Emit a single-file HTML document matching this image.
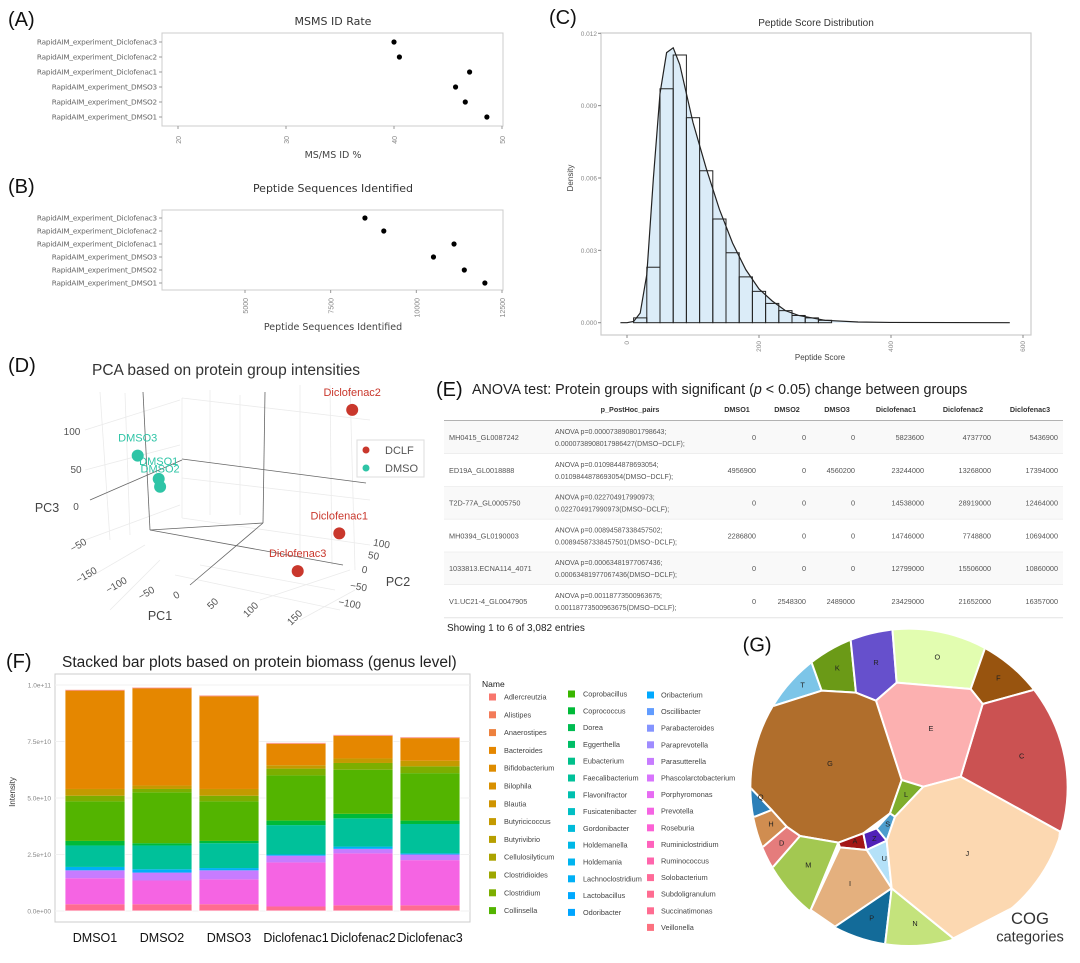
<!DOCTYPE html>
<html><head><meta charset="utf-8">
<style>
html,body{margin:0;padding:0;background:#fff;}
svg{display:block;font-family:"Liberation Sans",sans-serif;}
</style></head>
<body>
<svg id="fig" width="1080" height="963" viewBox="0 0 1080 963" xmlns="http://www.w3.org/2000/svg">
<g id="gA"></g>
<g id="gB"></g>
<g id="gC"></g>
<g id="gD"></g>
<g id="gE"></g>
<g id="gF"></g>
<svg id="gG" x="720" y="620" width="360" height="343" viewBox="0 0 1080 1029"></svg>
</svg>
<script>
// ---------- DATA ----------
const sampleNames = ["RapidAIM_experiment_Diclofenac3","RapidAIM_experiment_Diclofenac2","RapidAIM_experiment_Diclofenac1","RapidAIM_experiment_DMSO3","RapidAIM_experiment_DMSO2","RapidAIM_experiment_DMSO1"];
const msmsRate = [40.0, 40.5, 47.0, 45.7, 46.6, 48.6];
const msmsTicks = [20, 30, 40, 50];
const peptideCounts = [8500, 9050, 11100, 10500, 11400, 12000];
const peptideTicks = [5000, 7500, 10000, 12500];

const histStart = [10,30,50,70,90,110,130,150,170,190,210,230,250,270,290];
const histDensity = [0.0002,0.0023,0.0097,0.0111,0.0085,0.0063,0.0043,0.0029,0.0019,0.0013,0.0008,0.0005,0.0003,0.0002,0.0001];
const kdeX = [-10,0,10,20,30,40,50,60,70,80,90,100,120,140,160,180,200,220,240,260,300,350,400,580];
const kdeY = [0,0,0.00005,0.0004,0.002,0.006,0.0095,0.0112,0.0114,0.0107,0.0095,0.0083,0.0064,0.0047,0.0033,0.0022,0.0014,0.0009,0.0005,0.0003,0.0001,0.00003,0.00001,0];
const densTicks = ["0.000","0.003","0.006","0.009","0.012"];
const scoreTicks = [0,200,400,600];

const pcaNames = ["Diclofenac2","Diclofenac1","Diclofenac3","DMSO3","DMSO1","DMSO2"];
const pcaGroup = ["DCLF","DCLF","DCLF","DMSO","DMSO","DMSO"];
const pc1 = [206,199,151,-89,-59,-57];
const pc2 = [50,0,-50,0,0,0];
const pc3 = [168,22,-18,68,43,33];

const tblIds = ["MH0415_GL0087242","ED19A_GL0018888","T2D-77A_GL0005750","MH0394_GL0190003","1033813.ECNA114_4071","V1.UC21-4_GL0047905"];
const tblP1 = ["ANOVA p=0.000073890801798643;","ANOVA p=0.0109844878693054;","ANOVA p=0.022704917990973;","ANOVA p=0.00894587338457502;","ANOVA p=0.00063481977067436;","ANOVA p=0.00118773500963675;"];
const tblP2 = ["0.0000738908017986427(DMSO~DCLF);","0.0109844878693054(DMSO~DCLF);","0.022704917990973(DMSO~DCLF);","0.00894587338457501(DMSO~DCLF);","0.00063481977067436(DMSO~DCLF);","0.00118773500963675(DMSO~DCLF);"];
const tblDMSO1 = [0,4956900,0,2286800,0,0];
const tblDMSO2 = [0,0,0,0,0,2548300];
const tblDMSO3 = [0,4560200,0,0,0,2489000];
const tblDic1 = [5823600,23244000,14538000,14746000,12799000,23429000];
const tblDic2 = [4737700,13268000,28919000,7748800,15506000,21652000];
const tblDic3 = [5436900,17394000,12464000,10694000,10860000,16357000];

const barSamples = ["DMSO1","DMSO2","DMSO3","Diclofenac1","Diclofenac2","Diclofenac3"];
const stackColors = ["#ff6c91","#f564e3","#c77cff","#00b0f6","#00c19a","#00ba38","#53b400","#7cae00","#c49a00","#e58700","#f8766d"];
const sVeillonella = [0.3,0.3,0.3,0.2,0.25,0.25];
const sPrevotella = [1.15,1.05,1.1,1.95,2.3,2.0];
const sPhascol = [0.35,0.35,0.4,0.3,0.2,0.25];
const sOribacterium = [0.15,0.15,0.1,0.05,0.1,0.05];
const sFaecali = [0.95,1.05,1.1,1.3,1.25,1.3];
const sCoprococcus = [0.2,0.1,0.1,0.2,0.2,0.15];
const sCollinsella = [1.75,2.25,1.75,2.0,1.95,2.1];
const sClostridioides = [0.25,0.15,0.25,0.3,0.3,0.3];
const sBlautia = [0.3,0.15,0.3,0.15,0.2,0.25];
const sBacteroides = [4.35,4.3,4.1,0.95,1.0,1.0];
const sAlistipes = [0.05,0.05,0.05,0.05,0.05,0.05];
const intensityTicks = ["0.0e+00","2.5e+10","5.0e+10","7.5e+10","1.0e+11"];
const legendCol1 = ["Adlercreutzia","Alistipes","Anaerostipes","Bacteroides","Bifidobacterium","Bilophila","Blautia","Butyricicoccus","Butyrivibrio","Cellulosilyticum","Clostridioides","Clostridium","Collinsella"];
const legendCol2 = ["Coprobacillus","Coprococcus","Dorea","Eggerthella","Eubacterium","Faecalibacterium","Flavonifractor","Fusicatenibacter","Gordonibacter","Holdemanella","Holdemania","Lachnoclostridium","Lactobacillus","Odoribacter"];
const legendCol3 = ["Oribacterium","Oscillibacter","Parabacteroides","Paraprevotella","Parasutterella","Phascolarctobacterium","Porphyromonas","Prevotella","Roseburia","Ruminiclostridium","Ruminococcus","Solobacterium","Subdoligranulum","Succinatimonas","Veillonella"];
const legendColors1 = ["#f8766d","#f37b59","#ed813e","#e58700","#de8c00","#d89000","#cf9400","#c49a00","#b79f00","#aba300","#9da700","#7cae00","#53b400"];
const legendColors2 = ["#39b600","#00ba38","#00bc51","#00be67","#00c08b","#00c19a","#00c0af","#00bfc4","#00bbda","#00b8e7","#00b4ef","#00b0f6","#00a9ff","#00a5ff"];
const legendColors3 = ["#00a9ff","#619cff","#8494ff","#9f8cff","#c77cff","#d874fd","#e76bf3","#f564e3","#fc61d5","#ff62bc","#ff65ac","#ff6a98","#ff6c91","#ff6c91","#fc717f"];

const cogLabels = ["T","K","R","O","F","C","E","G","Q","H","D","M","A","Z","S","L","U","I","P","N","J"];
const cogColors = ["#7cc5e8","#6b9a17","#6650cc","#e2fdb0","#98540f","#cb5252","#fcb0b0","#b06e2c","#2c7fb8","#d08d50","#e57c7c","#a3c851","#a31616","#5021b8","#4c9dcd","#7fae2c","#b4e1f8","#e4b07e","#136b99","#c4e37c","#fcd8b1"];

// ---------- HELPERS ----------
const NS="http://www.w3.org/2000/svg";
function mk(tag, attrs, parent){const e=document.createElementNS(NS,tag);for(const k in attrs)e.setAttribute(k,attrs[k]);parent.appendChild(e);return e;}
function tx(str, attrs, parent){const e=mk("text",attrs,parent);e.textContent=str;return e;}
const gA=document.getElementById("gA"),gB=document.getElementById("gB"),gC=document.getElementById("gC"),gD=document.getElementById("gD"),gE=document.getElementById("gE"),gF=document.getElementById("gF"),gG=document.getElementById("gG");
let el;

// ---------- PANEL A & B ----------
function dotPanel(g, letter, letterY, title, titleY, fy0, fy1, rowY0, rowStep, vals, xmin, xmax, x0, x1, ticks, tickY, xlabel, xlabelY, prefix){
  el=tx(letter,{x:8,y:letterY,"font-size":20,fill:"#111"},g);
  
  
  el=tx(title,{x:333,y:titleY,"font-size":11,"text-anchor":"middle",fill:"#333","font-family":"DejaVu Sans, sans-serif"},g);
  
  
  el=mk("rect",{x:162,y:fy0,width:341,height:fy1-fy0,fill:"#fff",stroke:"#ccc","stroke-width":1},g);
  
  
  const sx=v=>x0+(v-xmin)/(xmax-xmin)*(x1-x0);
  ticks.forEach(t=>{
    el=mk("line",{x1:sx(t),x2:sx(t),y1:fy1,y2:fy1+3,stroke:"#999"},g);
    
    
    el=tx(String(t),{x:0,y:0,"font-size":7,fill:"#888","text-anchor":"end",transform:`translate(${sx(t)+3},${tickY}) rotate(-90)`},g);
    
    
  });
  vals.forEach((v,i)=>{
    const y=rowY0+i*rowStep;
    el=tx(sampleNames[i],{x:157,y:y+2.5,"font-size":7.3,fill:"#666","text-anchor":"end","font-family":"DejaVu Sans, sans-serif","letter-spacing":"-0.2"},g);
    
    
    el=mk("line",{x1:159,x2:162,y1:y,y2:y,stroke:"#999"},g);
    
    
    el=mk("circle",{cx:sx(v),cy:y,r:2.6,fill:"#000"},g);
    
    
  });
  el=tx(xlabel,{x:333,y:xlabelY,"font-size":9.5,"text-anchor":"middle",fill:"#444","font-family":"DejaVu Sans, sans-serif"},g);
  
  
}
dotPanel(gA,"(A)",26,"MSMS ID Rate",25,33,126,42,15,msmsRate,20,50,178,502,msmsTicks,136,"MS/MS ID %",158,"a");
dotPanel(gB,"(B)",193,"Peptide Sequences Identified",192,210,290,218,13,peptideCounts,5000,12500,245,502,peptideTicks,298,"Peptide Sequences Identified",330,"b");

// ---------- PANEL C ----------
(function(){
  const g=gC;
  const sx=v=>627+v*0.66, sy=v=>322.7-v/0.012*289.4;
  el=tx("(C)",{x:549,y:24,"font-size":20,fill:"#111"},g);
  
  
  el=tx("Peptide Score Distribution",{x:816,y:26,"font-size":10,"text-anchor":"middle",fill:"#333"},g);
  
  
  el=mk("rect",{x:601,y:33,width:430,height:302,fill:"#fff",stroke:"#ccc","stroke-width":1.2},g);
  
  
  densTicks.forEach(t=>{
    const y=sy(parseFloat(t));
    el=mk("line",{x1:598,x2:601,y1:y,y2:y,stroke:"#888"},g);
    
    
    el=tx(t,{x:597,y:y+2.5,"font-size":6.5,"text-anchor":"end",fill:"#888"},g);
    
    
  });
  scoreTicks.forEach(t=>{
    el=mk("line",{x1:sx(t),x2:sx(t),y1:335,y2:338,stroke:"#888"},g);
    
    
    el=tx(String(t),{x:0,y:0,"font-size":6.5,"text-anchor":"end",fill:"#888",transform:`translate(${sx(t)+2},${341}) rotate(-90)`},g);
    
    
  });
  el=tx("Density",{x:0,y:0,"font-size":8,"text-anchor":"middle",fill:"#444",transform:"translate(573,178) rotate(-90)"},g);
  
  
  el=tx("Peptide Score",{x:820,y:360,"font-size":8,"text-anchor":"middle",fill:"#444"},g);
  
  
  // kde fill
  let pts=kdeX.map((x,i)=>`${sx(x)},${sy(kdeY[i])}`);
  el=mk("polygon",{points:pts.join(" "),fill:"#dbecf8",stroke:"none"},g);
  
  
  histStart.forEach((s,i)=>{
    el=mk("rect",{x:sx(s),y:sy(histDensity[i]),width:sx(s+20)-sx(s),height:sy(0)-sy(histDensity[i]),fill:"none",stroke:"#222","stroke-width":1},g);
    
    
  });
  el=mk("polyline",{points:pts.join(" "),fill:"none",stroke:"#222","stroke-width":1.2},g);
  
  
})();

// ---------- PANEL D ----------
(function(){
  const g=gD;
  const O=[200,520];
  const px=(a,b,c)=>O[0]+0.7*a+0.16*b;
  const py=(a,b,c)=>O[1]+0.15*a-0.3*b-0.75*c;
  el=tx("(D)",{x:8,y:372,"font-size":20,fill:"#111"},g);
  
  
  el=tx("PCA based on protein group intensities",{x:226,y:375,"font-size":15.5,"text-anchor":"middle",fill:"#333"},g);
  
  
  const grid=[[100,392,110,540],[125,393,130,535],[182,398,182,518],[210,390,210,515],[240,395,240,515],[300,385,300,560],[330,385,332,565],[350,385,355,570],
              [85,430,180,400],[85,470,180,445],[85,540,180,505],[85,580,145,545],[110,610,160,560],[182,398,370,420],[182,518,370,545],[182,478,370,500],
              [260,600,350,570],[300,620,355,590],[200,565,335,590],[175,575,340,610]];
  grid.forEach(l=>{el=mk("line",{x1:l[0],y1:l[1],x2:l[2],y2:l[3],stroke:"#ebebeb","stroke-width":0.8},g);
    
    });
  const axes=[[143,392,150,530],[150,530,263,523],[265,392,263,523],[182,459,366,483],[90,500,182,460],[150,530,343,565],[190,585,263,523]];
  axes.forEach(l=>{el=mk("line",{x1:l[0],y1:l[1],x2:l[2],y2:l[3],stroke:"#666","stroke-width":0.8},g);
    
    });
  const tk=[["100",72,435,0],["50",76,473,0],["0",76,510,0],["−50",80,548,-30],["−150",88,578,-30],["−100",118,588,-30],["−50",148,596,-30],["0",178,598,-30],["50",215,606,-45],["100",253,612,-45],["150",297,620,-45],
            ["100",381,547,10],["50",373,559,10],["0",364,573,10],["−50",358,590,10],["−100",349,607,10]];
  tk.forEach(t=>{el=tx(t[0],{x:0,y:0,"font-size":10,fill:"#555","text-anchor":"middle",transform:`translate(${t[1]},${t[2]}) rotate(${t[3]})`},g);
    
    });
  [["PC3",47,512],["PC1",160,620],["PC2",398,586]].forEach(t=>{el=tx(t[0],{x:t[1],y:t[2],"font-size":12.5,fill:"#444","text-anchor":"middle"},g);
    
    });
  pc1.forEach((a,i)=>{
    const x=px(a,pc2[i],pc3[i]), y=py(a,pc2[i],pc3[i]);
    const col=pcaGroup[i]==="DCLF"?"#c9372c":"#2ec4a6";
    el=mk("circle",{cx:x,cy:y,r:6,fill:col},g);
    
    
    el=tx(pcaNames[i],{x:x,y:y-14,"font-size":11,fill:col,"text-anchor":"middle"},g);
    
    
  });
  el=mk("rect",{x:357,y:440,width:67,height:37,fill:"#fff",stroke:"#ddd"},g);
  
  
  [["DCLF","#c9372c",450],["DMSO","#2ec4a6",468]].forEach(l=>{
    el=mk("circle",{cx:366,cy:l[2],r:3.5,fill:l[1]},g);
    
    
    el=tx(l[0],{x:385,y:l[2]+4,"font-size":11,fill:"#555"},g);
    
    
  });
})();

// ---------- PANEL E ----------
(function(){
  const g=gE;
  el=tx("(E)",{x:436,y:396,"font-size":20,fill:"#111"},g);
  
  
  const t=tx("",{x:472,y:394,"font-size":14.3,fill:"#222"},g);
  t.innerHTML='ANOVA test: Protein groups with significant (<tspan font-style="italic">p</tspan> &lt; 0.05) change between groups';
  
  
  const heads=[["p_PostHoc_pairs",630],["DMSO1",737],["DMSO2",787],["DMSO3",837],["Diclofenac1",896],["Diclofenac2",963],["Diclofenac3",1030]];
  heads.forEach(h=>{el=tx(h[0],{x:h[1],y:412,"font-size":7.2,"font-weight":"bold",fill:"#333","text-anchor":"middle"},g);
    
    });
  el=mk("line",{x1:444,x2:1063,y1:421,y2:421,stroke:"#999","stroke-width":1.5},g);
  
  
  const ends=[756,806,855,924,991,1058];
  const cols=[tblDMSO1,tblDMSO2,tblDMSO3,tblDic1,tblDic2,tblDic3];
  tblIds.forEach((id,i)=>{
    const y0=421+i*32.8;
    el=mk("rect",{x:444,y:y0,width:619,height:32.8,fill:i%2===0?"#f9f9f9":"#fff"},g);
    
    
    el=mk("line",{x1:444,x2:1063,y1:y0+32.8,y2:y0+32.8,stroke:"#e3e3e3"},g);
    
    
    el=tx(id,{x:449,y:y0+19,"font-size":7.3,fill:"#555"},g);
    
    
    el=tx(tblP1[i],{x:555,y:y0+13,"font-size":7,fill:"#555"},g);
    
    
    el=tx(tblP2[i],{x:555,y:y0+25,"font-size":7,fill:"#555"},g);
    
    
    cols.forEach((c,j)=>{el=tx(String(c[i]),{x:ends[j],y:y0+19,"font-size":7.3,fill:"#555","text-anchor":"end"},g);
      
      });
  });
  el=tx("Showing 1 to 6 of 3,082 entries",{x:447,y:631,"font-size":10,fill:"#222"},g);
  
  
})();

// ---------- PANEL F ----------
(function(){
  const g=gF;
  const sy=v=>911-v/10*226;
  el=tx("(F)",{x:6,y:668,"font-size":20,fill:"#111"},g);
  
  
  el=tx("Stacked bar plots based on protein biomass (genus level)",{x:62,y:667,"font-size":15.5,fill:"#222"},g);
  
  
  el=mk("rect",{x:55,y:674,width:415,height:248,fill:"#fff",stroke:"#ccc","stroke-width":1},g);
  
  
  intensityTicks.forEach((t,i)=>{
    const y=sy(i*2.5);
    el=mk("line",{x1:55,x2:470,y1:y,y2:y,stroke:"#f0f0f0"},g);
    
    
    el=tx(t,{x:51,y:y+2.5,"font-size":6.5,fill:"#888","text-anchor":"end"},g);
    
    
  });
  el=tx("Intensity",{x:0,y:0,"font-size":8,fill:"#333","text-anchor":"middle",transform:"translate(15,792) rotate(-90)"},g);
  
  
  const series=[sVeillonella,sPrevotella,sPhascol,sOribacterium,sFaecali,sCoprococcus,sCollinsella,sClostridioides,sBlautia,sBacteroides,sAlistipes];
  barSamples.forEach((s,i)=>{
    const cx=95+i*67;
    let acc=0;
    series.forEach((ser,k)=>{
      const v=ser[i];
      el=mk("rect",{x:cx-30,y:sy(acc+v),width:60,height:sy(acc)-sy(acc+v),fill:stackColors[k]},g);
      
      
      acc+=v;
    });
    el=mk("rect",{x:cx-30,y:sy(acc),width:60,height:sy(0)-sy(acc),fill:"none",stroke:"#fff","stroke-width":1.2,"stroke-opacity":0.7},g);
    
    
    el=tx(s,{x:cx,y:942,"font-size":12.5,fill:"#111","text-anchor":"middle"},g);
    
    
  });
  el=tx("Name",{x:482,y:687,"font-size":8.5,fill:"#222"},g);
  
  
  function legCol(names,colors,sqX,textX,y0,step){
    names.forEach((n,i)=>{
      const y=y0+i*step;
      el=mk("rect",{x:sqX,y:y-3.5,width:7,height:7,fill:colors[i]},g);
      
      
      el=tx(n,{x:textX,y:y+2.5,"font-size":7.3,fill:"#444"},g);
      
      
    });
  }
  legCol(legendCol1,legendColors1,489,504,697,17.8);
  legCol(legendCol2,legendColors2,568,583,694,16.8);
  legCol(legendCol3,legendColors3,647,661,695,16.6);
})();

// ---------- PANEL G (Voronoi treemap, coordinates in 3x local viewBox) ----------
(function(){
  const g=gG;
  const cells=[
    [[60,300],[160,258],[305,212],[265,100],[120,120]],
    [[265,100],[305,212],[408,218],[390,40],[280,40]],
    [[390,40],[408,218],[468,242],[530,188],[515,0],[400,0]],
    [[515,0],[530,188],[752,207],[795,85],[720,0]],
    [[795,85],[752,207],[788,252],[940,210],[900,60]],
    [[940,210],[788,252],[722,470],[1020,635],[1090,560],[1090,200]],
    [[468,242],[530,188],[752,207],[788,252],[722,470],[610,500],[545,480]],
    [[40,260],[160,258],[305,212],[408,218],[468,242],[545,480],[510,580],[430,640],[355,668],[240,648],[200,620],[155,570],[40,450]],
    [[40,450],[155,570],[105,590],[40,600]],
    [[40,600],[105,590],[155,570],[200,620],[130,680],[40,680]],
    [[40,680],[130,680],[200,620],[240,648],[160,740],[40,760]],
    [[100,760],[160,740],[240,648],[355,668],[272,870],[150,900]],
    [[355,668],[430,640],[440,690],[360,682]],
    [[430,640],[470,625],[500,662],[440,690]],
    [[470,625],[510,580],[525,590],[500,662]],
    [[545,480],[610,500],[525,590],[510,580]],
    [[440,690],[500,662],[515,805]],
    [[360,682],[440,690],[515,805],[345,920],[272,870]],
    [[345,920],[515,805],[495,975],[360,1029]],
    [[515,805],[700,955],[620,1029],[495,1029],[495,975]],
    [[610,500],[722,470],[1020,635],[1000,800],[700,955],[515,805],[500,662],[525,590]]
  ];
  const labPos=[[248,195],[352,143],[468,127],[652,110],[835,173],[905,407],[633,325],[330,430],[122,530],[153,612],[185,668],[265,735],[405,662],[463,655],[503,612],[558,523],[493,715],[390,790],[455,893],[585,910],[742,700]];
  const defs=mk("defs",{},g);
  const cp=mk("clipPath",{id:"circ"},defs);
  mk("circle",{cx:567,cy:502,r:473},cp);
  const cg=mk("g",{"clip-path":"url(#circ)"},g);
  cells.forEach((poly,i)=>{
    el=mk("polygon",{points:poly.map(p=>p.join(",")).join(" "),fill:cogColors[i],stroke:"#fff","stroke-width":6,"stroke-linejoin":"round"},cg);
    
    
  });
  cogLabels.forEach((l,i)=>{
    el=tx(l,{x:labPos[i][0],y:labPos[i][1]+8,"font-size":22,fill:"#222","text-anchor":"middle"},g);
    
    
  });
  el=tx("(G)",{x:68,y:95,"font-size":60,fill:"#111"},g);
  
  
  el=tx("COG",{x:930,y:912,"font-size":50,fill:"#333","text-anchor":"middle"},g);
  
  
  el=tx("categories",{x:930,y:965,"font-size":44,fill:"#333","text-anchor":"middle"},g);
  
  
})();
</script>
</body></html>
